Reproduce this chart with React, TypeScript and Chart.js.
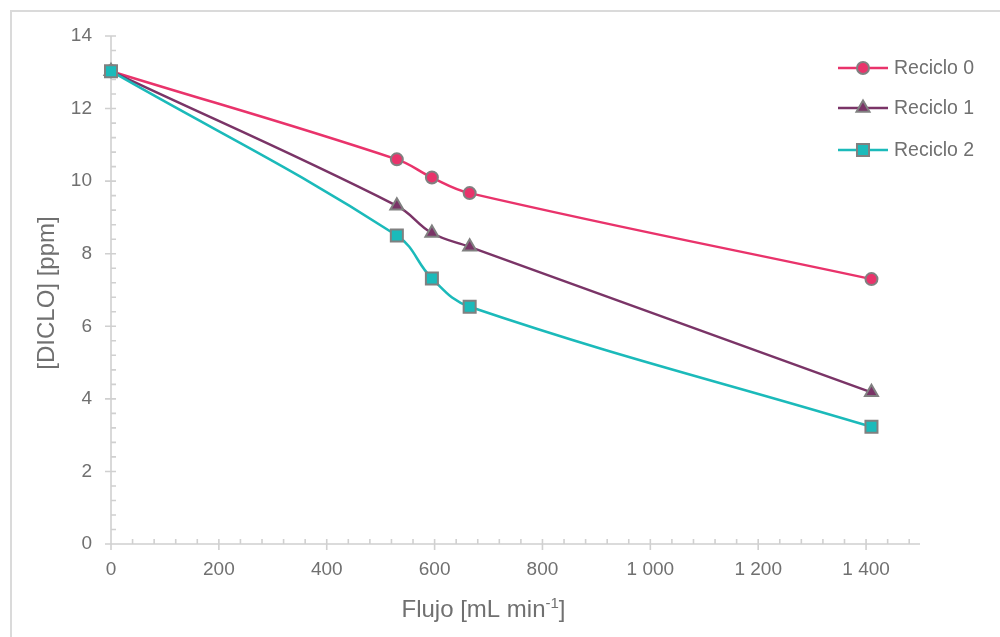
import React, { useEffect, useRef } from 'react';
import { Chart, registerables } from 'chart.js';

Chart.register(...registerables);

// ---- Data ----
const flowValues = [0, 530, 595, 665, 1410];
const reciclo0 = [13.03, 10.6, 10.1, 9.67, 7.3];
const reciclo1 = [13.03, 9.32, 8.57, 8.19, 4.18];
const reciclo2 = [13.03, 8.5, 7.32, 6.54, 3.23];
const seriesNames = ['Reciclo 0', 'Reciclo 1', 'Reciclo 2'];
const seriesColors = ['#E9336B', '#7A3467', '#1BBABA'];
const seriesMarkers = ['circle', 'triangle', 'rect'];
const markerRadii = [6, 7.5, 8.5];
const xMajorStep = 200;
const xMinorStep = 40;
const xMax = 1500;
const xLastLabel = 1400;
const yMajorStep = 2;
const yMinorStep = 0.4;
const yMax = 14;
const xTitleMain = 'Flujo [mL min';
const xTitleSup = '-1';
const xTitleEnd = ']';
const yTitle = '[DICLO] [ppm]';

const FONT = '"Liberation Sans", Arial, Helvetica, sans-serif';
const TEXT = '#707070';
const AXIS = '#d0d0d0';
const MARKER_BORDER = '#808080';

function formatThousands(v: number): string {
  const s = String(Math.round(v));
  if (s.length <= 3) return s;
  return s.slice(0, s.length - 3) + ' ' + s.slice(s.length - 3);
}

function drawMarker(ctx: CanvasRenderingContext2D, kind: string, x: number, y: number, r: number, fill: string) {
  ctx.save();
  ctx.beginPath();
  if (kind === 'circle') {
    ctx.arc(x, y, r, 0, Math.PI * 2);
  } else if (kind === 'triangle') {
    for (let i = 0; i < 3; i++) {
      const a = (i * 2 * Math.PI) / 3;
      const px = x + Math.sin(a) * r;
      const py = y - Math.cos(a) * r;
      if (i === 0) ctx.moveTo(px, py);
      else ctx.lineTo(px, py);
    }
    ctx.closePath();
  } else {
    const s = r * Math.SQRT1_2;
    ctx.rect(x - s, y - s, 2 * s, 2 * s);
  }
  ctx.fillStyle = fill;
  ctx.fill();
  ctx.lineWidth = 2;
  ctx.strokeStyle = MARKER_BORDER;
  ctx.stroke();
  ctx.restore();
}

const framePlugin = {
  id: 'frame',
  beforeDraw(chart: any) {
    const { ctx } = chart;
    ctx.save();
    ctx.fillStyle = '#ffffff';
    ctx.fillRect(0, 0, chart.width, chart.height);
    ctx.strokeStyle = '#dadada';
    ctx.lineWidth = 2;
    ctx.strokeRect(11, 11, 3000, 3000);
    ctx.restore();
  },
};

const axesPlugin = {
  id: 'customAxes',
  beforeDatasetsDraw(chart: any) {
    const { ctx, scales } = chart;
    const xs = scales.x;
    const ys = scales.y;
    const x0 = xs.getPixelForValue(0);
    const xEnd = xs.getPixelForValue(xMax);
    const y0 = ys.getPixelForValue(0);
    const yTop = ys.getPixelForValue(yMax);
    ctx.save();
    ctx.strokeStyle = AXIS;
    ctx.lineWidth = 1.6;
    ctx.beginPath();
    ctx.moveTo(x0, y0);
    ctx.lineTo(xEnd, y0);
    ctx.moveTo(x0, y0);
    ctx.lineTo(x0, yTop);
    for (let v = 0; v < xMax + 0.001; v += xMinorStep) {
      const px = xs.getPixelForValue(v);
      const major = Math.abs(v / xMajorStep - Math.round(v / xMajorStep)) < 1e-6;
      ctx.moveTo(px, y0 - 5);
      ctx.lineTo(px, major ? y0 + 6 : y0);
    }
    for (let i = 0; i <= Math.round(yMax / yMinorStep); i++) {
      const v = i * yMinorStep;
      const py = ys.getPixelForValue(v);
      const major = i % Math.round(yMajorStep / yMinorStep) === 0;
      ctx.moveTo(major ? x0 - 6 : x0, py);
      ctx.lineTo(x0 + 5, py);
    }
    ctx.stroke();
    ctx.restore();
  },
  afterDraw(chart: any) {
    const { ctx, chartArea } = chart;
    ctx.save();
    ctx.fillStyle = TEXT;
    const mainFont = `24px ${FONT}`;
    const supFont = `15px ${FONT}`;
    ctx.font = mainFont;
    const wMain = ctx.measureText(xTitleMain).width;
    const wEnd = ctx.measureText(xTitleEnd).width;
    ctx.font = supFont;
    const wSup = ctx.measureText(xTitleSup).width;
    const total = wMain + wSup + wEnd;
    const cx = (chartArea.left + chartArea.right) / 2 - 32;
    const baseY = 617;
    let sx = cx - total / 2;
    ctx.textBaseline = 'alphabetic';
    ctx.textAlign = 'left';
    ctx.font = mainFont;
    ctx.fillText(xTitleMain, sx, baseY);
    sx += wMain;
    ctx.font = supFont;
    ctx.fillText(xTitleSup, sx, baseY - 9);
    sx += wSup;
    ctx.font = mainFont;
    ctx.fillText(xTitleEnd, sx, baseY);

    ctx.save();
    ctx.translate(47, (chartArea.top + chartArea.bottom) / 2 + 3);
    ctx.rotate(-Math.PI / 2);
    ctx.font = mainFont;
    ctx.textAlign = 'center';
    ctx.textBaseline = 'middle';
    ctx.fillText(yTitle, 0, 0);
    ctx.restore();

    const lx = 838;
    const ly = [68, 108, 150];
    ctx.font = `19.5px ${FONT}`;
    ctx.textAlign = 'left';
    ctx.textBaseline = 'middle';
    for (let i = 0; i < seriesNames.length; i++) {
      ctx.strokeStyle = seriesColors[i];
      ctx.lineWidth = 2.5;
      ctx.beginPath();
      ctx.moveTo(lx, ly[i]);
      ctx.lineTo(lx + 50, ly[i]);
      ctx.stroke();
      drawMarker(ctx, seriesMarkers[i], lx + 25, ly[i], markerRadii[i], seriesColors[i]);
      ctx.fillStyle = TEXT;
      ctx.fillText(seriesNames[i], lx + 56, ly[i] + 1);
    }
    ctx.restore();
  },
};

export default function App() {
  const canvasRef = useRef<HTMLCanvasElement | null>(null);

  useEffect(() => {
    if (!canvasRef.current) return;
    const seriesData = [reciclo0, reciclo1, reciclo2];
    const chart = new Chart(canvasRef.current, {
      type: 'line',
      data: {
        datasets: seriesData.map((vals, i) => ({
          label: seriesNames[i],
          data: flowValues.map((x, j) => ({ x, y: vals[j] })),
          borderColor: seriesColors[i],
          backgroundColor: seriesColors[i],
          borderWidth: 2.5,
          pointStyle: seriesMarkers[i] as any,
          pointRadius: markerRadii[i],
          pointHoverRadius: markerRadii[i],
          pointBackgroundColor: seriesColors[i],
          pointBorderColor: MARKER_BORDER,
          pointBorderWidth: 2,
          tension: 0.4,
          fill: false,
          clip: false as any,
          order: seriesData.length - 1 - i,
        })),
      },
      options: {
        animation: false,
        responsive: false,
        devicePixelRatio: 1,
        layout: { padding: { top: 36, right: 80, left: 0, bottom: 0 } },
        plugins: {
          legend: { display: false },
          tooltip: { enabled: false },
          title: { display: false },
        },
        scales: {
          x: {
            type: 'linear',
            min: 0,
            max: xMax,
            grid: { display: false },
            border: { display: false },
            ticks: {
              stepSize: xMajorStep,
              includeBounds: false,
              autoSkip: false,
              maxRotation: 0,
              padding: 6,
              color: TEXT,
              font: { family: FONT, size: 19 },
              callback: (v: any) =>
                Number(v) % xMajorStep === 0 && Number(v) <= xLastLabel ? formatThousands(Number(v)) : '',
            },
            afterFit: (scale: any) => {
              scale.height = 93;
            },
          },
          y: {
            type: 'linear',
            min: 0,
            max: yMax,
            grid: { display: false },
            border: { display: false },
            ticks: {
              stepSize: yMajorStep,
              padding: 11,
              color: TEXT,
              font: { family: FONT, size: 19 },
            },
            afterFit: (scale: any) => {
              scale.width = 111;
            },
          },
        },
      },
      plugins: [framePlugin, axesPlugin],
    });
    return () => chart.destroy();
  }, []);

  return (
    <div style={{ position: 'absolute', left: 0, top: 0, width: 1000, height: 637, overflow: 'hidden' }}>
      <canvas ref={canvasRef} width={1000} height={637} style={{ display: 'block' }} />
    </div>
  );
}
